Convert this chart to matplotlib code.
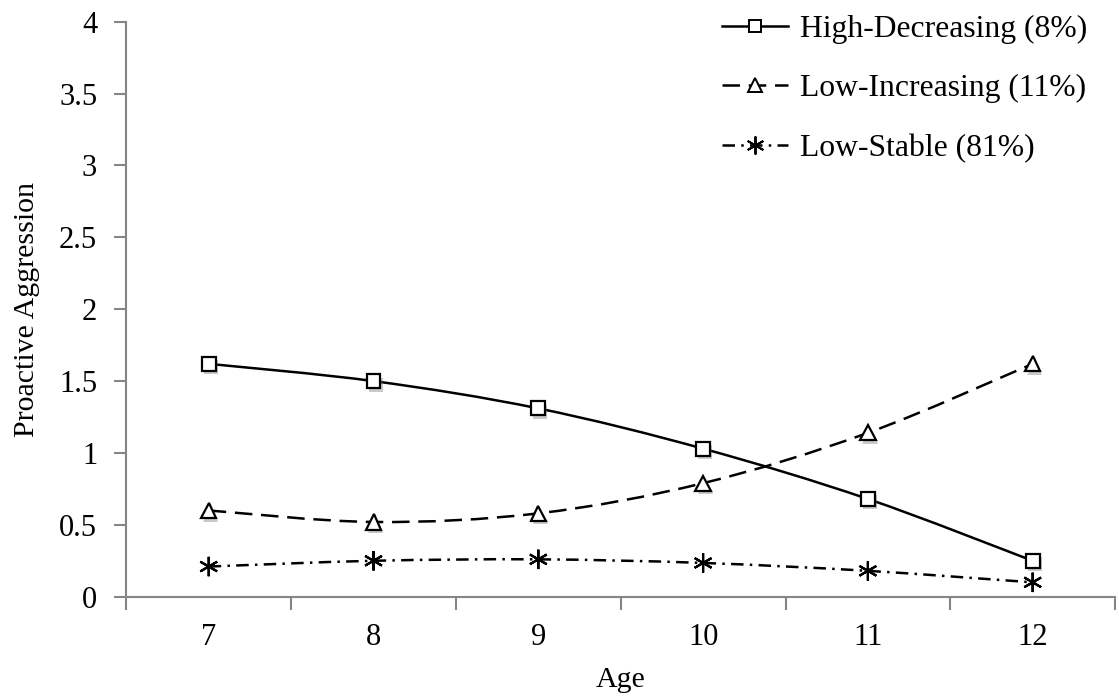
import matplotlib
matplotlib.use('Agg')
import matplotlib.pyplot as plt
import matplotlib.patheffects as pe
from matplotlib.path import Path
from matplotlib.patches import PathPatch

ages = [7, 8, 9, 10, 11, 12]
high_decreasing = [1.62, 1.50, 1.31, 1.03, 0.68, 0.25]
low_increasing = [0.60, 0.52, 0.58, 0.79, 1.14, 1.62]
low_stable = [0.21, 0.25, 0.26, 0.235, 0.18, 0.10]
labels = ['High-Decreasing (8%)', 'Low-Increasing (11%)', 'Low-Stable (81%)']

plt.rcParams['font.family'] = ['Liberation Serif', 'DejaVu Serif']


def smooth_path(xs, ys, k=1/6):
    # excel-ish smoothed line: bezier segments, control points from neighbours
    pts = list(zip(xs, ys))
    verts = [pts[0]]
    codes = [Path.MOVETO]
    n = len(pts)
    for i in range(n - 1):
        p0 = pts[i - 1] if i > 0 else pts[i]
        p1 = pts[i]
        p2 = pts[i + 1]
        p3 = pts[i + 2] if i + 2 < n else pts[i + 1]
        c1 = (p1[0] + (p2[0] - p0[0]) * k, p1[1] + (p2[1] - p0[1]) * k)
        c2 = (p2[0] - (p3[0] - p1[0]) * k, p2[1] - (p3[1] - p1[1]) * k)
        verts += [c1, c2, p2]
        codes += [Path.CURVE4] * 3
    return Path(verts, codes)


fig = plt.figure(figsize=(11.19, 6.98), dpi=100)
ax = fig.add_axes([0.1129, 0.1451, 0.8836, 0.8238])

series = [high_decreasing, low_increasing, low_stable]
styles = ['-', (0, (7, 3.5)), (0, (5, 2.5, 1, 2.5))]
markers = ['s', '^', (6, 2, 0)]
msizes = [10, 11, 14]
shadow = [pe.SimplePatchShadow(offset=(1.5, -2.5), shadow_rgbFace='0.4', alpha=0.35), pe.Normal()]

handles = []
for vals, ls, mk, ms, lab in zip(series, styles, markers, msizes, labels):
    ax.add_patch(PathPatch(smooth_path(ages, vals), fill=False, edgecolor='black',
                           linewidth=1.8, linestyle=ls, zorder=2))
    ax.plot(ages, vals, linestyle='none', marker=mk, markersize=ms,
            markerfacecolor='white', markeredgecolor='black', markeredgewidth=1.6,
            zorder=3, path_effects=shadow)
    h, = ax.plot([], [], color='black', linewidth=1.8, linestyle=ls, marker=mk,
                 markersize=ms - 1, markerfacecolor='white', markeredgecolor='black',
                 markeredgewidth=1.4, label=lab)
    handles.append(h)

ax.set_xlim(6.5, 12.5)
ax.set_ylim(0, 4)
ax.set_xticks(ages)
ax.set_xticks([6.5, 7.5, 8.5, 9.5, 10.5, 11.5, 12.5], minor=True)
ax.set_yticks([0, 0.5, 1, 1.5, 2, 2.5, 3, 3.5, 4])
ax.set_yticklabels(['0', '0.5', '1', '1.5', '2', '2.5', '3', '3.5', '4'])

for s in ['top', 'right']:
    ax.spines[s].set_visible(False)
for s in ['left', 'bottom']:
    ax.spines[s].set_color('#868686')
    ax.spines[s].set_linewidth(1.5)

ax.tick_params(axis='x', which='major', length=0, pad=19, labelsize=22)
ax.tick_params(axis='x', which='minor', length=9, width=1.5, color='#868686')
ax.tick_params(axis='y', length=9, width=1.5, color='#868686', pad=12, labelsize=22)

ax.set_xlabel('Age', fontsize=21.5, labelpad=11)
ax.set_ylabel('Proactive Aggression', fontsize=21.5, labelpad=14)

ax.legend(handles=handles, loc='upper left', bbox_to_anchor=(722 / 1119, 1 - 15 / 698),
          bbox_transform=fig.transFigure, frameon=False, fontsize=22.8,
          handlelength=2.1, handletextpad=0.35, labelspacing=0.95,
          borderpad=0, borderaxespad=0)

fig.savefig('out.png', dpi=100)
